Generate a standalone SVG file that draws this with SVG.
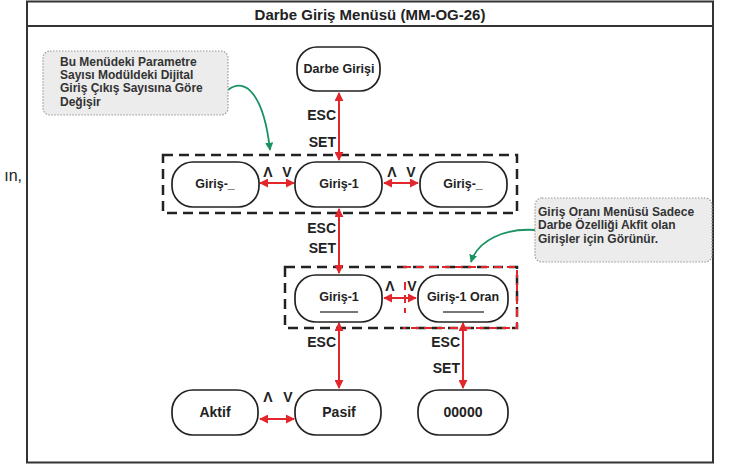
<svg xmlns="http://www.w3.org/2000/svg" width="732" height="467" viewBox="0 0 732 467">
<defs>
<marker id="ar" viewBox="0 0 10 10" refX="9" refY="5" markerWidth="4.5" markerHeight="4.5" orient="auto-start-reverse" markerUnits="strokeWidth"><path d="M0,0 L10,5 L0,10 z" fill="#e3262b"/></marker>
<marker id="ag" viewBox="0 0 10 10" refX="9" refY="5" markerWidth="4.5" markerHeight="4.5" orient="auto" markerUnits="strokeWidth"><path d="M0,0 L10,5 L0,10 z" fill="#1a9160"/></marker>
<style>
text{font-family:"Liberation Sans",Arial,sans-serif;fill:#222}
.node rect{fill:#fff;stroke:#222;stroke-width:1.7}
.nt{font-size:12.5px;font-weight:bold;text-anchor:middle}
.bt{font-size:14px;font-weight:bold;text-anchor:middle}
.lab{font-size:14px;font-weight:bold}
.note rect{fill:#ececec;stroke:#9a9a9a;stroke-width:1.2;stroke-dasharray:1.5 1.5}
.note text{font-size:12px;font-weight:bold;fill:#333}
.grp{fill:none;stroke:#222;stroke-width:2.5;stroke-dasharray:10 6}
.rg{fill:none;stroke:#e3262b;stroke-width:2;stroke-dasharray:8 5}
.ra{stroke:#e3262b;stroke-width:2;fill:none;marker-start:url(#ar);marker-end:url(#ar)}
.ga{stroke:#1a9160;stroke-width:1.8;fill:none;marker-end:url(#ag)}
.ul{stroke:#777;stroke-width:2}
</style>
</defs>
<rect x="0" y="0" width="732" height="467" fill="#fff"/>
<text x="22" y="181" font-size="16" text-anchor="end">ın,</text>
<g id="frame">
<rect x="27" y="1.5" width="686" height="461" fill="none" stroke="#333" stroke-width="2"/>
<line x1="27" y1="26" x2="713" y2="26" stroke="#333" stroke-width="2"/>
<text x="370" y="19.5" font-size="15" font-weight="bold" text-anchor="middle">Darbe Giriş Menüsü (MM-OG-26)</text>
</g>
<g id="groups">
<rect class="grp" x="163" y="155" width="354" height="58"/>
<rect class="grp" x="285" y="267" width="232" height="61"/>
<path class="rg" d="M403,267 H517 V328 H403"/>
<line class="rg" x1="405" y1="282" x2="405" y2="313"/>
</g>
<g id="connectors">
<line class="ra" x1="339" y1="93" x2="339" y2="160"/>
<line class="ra" x1="339" y1="209" x2="339" y2="273"/>
<line class="ra" x1="339" y1="323" x2="339" y2="388"/>
<line class="ra" x1="463" y1="323" x2="463" y2="388"/>
<line class="ra" x1="260" y1="183" x2="294" y2="183"/>
<line class="ra" x1="384" y1="183" x2="418" y2="183"/>
<line class="ra" x1="384" y1="298" x2="416" y2="298"/>
<line class="ra" x1="260" y1="419" x2="294" y2="419"/>
<path class="ga" d="M228,90 C246,76 264,96 270,150"/>
<path class="ga" d="M535,230 C505,228 478,240 471,262"/>
<text class="lab" x="336" y="120" text-anchor="end">ESC</text>
<text class="lab" x="336" y="147" text-anchor="end">SET</text>
<text class="lab" x="336" y="233" text-anchor="end">ESC</text>
<text class="lab" x="336" y="253" text-anchor="end">SET</text>
<text class="lab" x="336" y="347" text-anchor="end">ESC</text>
<text class="lab" x="460" y="347" text-anchor="end">ESC</text>
<text class="lab" x="460" y="373" text-anchor="end">SET</text>
<text class="lab" x="268" y="177" text-anchor="middle">Λ</text>
<text class="lab" x="287" y="177" text-anchor="middle">V</text>
<text class="lab" x="392" y="177" text-anchor="middle">Λ</text>
<text class="lab" x="411" y="177" text-anchor="middle">V</text>
<text class="lab" x="390" y="291" text-anchor="middle">Λ</text>
<text class="lab" x="412" y="291" text-anchor="middle">V</text>
<text class="lab" x="268" y="402" text-anchor="middle">Λ</text>
<text class="lab" x="288" y="402" text-anchor="middle">V</text>
</g>
<g id="n-darbe" class="node"><rect x="297" y="47" width="83" height="44" rx="20"/><text class="nt" x="339" y="73">Darbe Girişi</text></g>
<g id="n-giris-left" class="node"><rect x="172" y="162" width="87" height="45" rx="21"/><text class="nt" x="215" y="188">Giriş-_</text></g>
<g id="n-giris1" class="node"><rect x="295" y="162" width="87" height="45" rx="21"/><text class="nt" x="339" y="188">Giriş-1</text></g>
<g id="n-giris-right" class="node"><rect x="420" y="162" width="87" height="45" rx="21"/><text class="nt" x="463" y="188">Giriş-_</text></g>
<g id="n-giris1b" class="node"><rect x="295" y="275" width="87" height="47" rx="21"/><text class="nt" x="339" y="301">Giriş-1</text><line class="ul" x1="320" y1="312" x2="358" y2="312"/></g>
<g id="n-oran" class="node"><rect x="418" y="275" width="90" height="47" rx="21"/><text class="nt" x="463" y="301">Giriş-1 Oran</text><line class="ul" x1="443" y1="312" x2="484" y2="312"/></g>
<g id="n-aktif" class="node"><rect x="172" y="390" width="86" height="45" rx="21"/><text class="bt" x="215" y="417">Aktif</text></g>
<g id="n-pasif" class="node"><rect x="295" y="390" width="86" height="45" rx="21"/><text class="bt" x="339" y="417">Pasif</text></g>
<g id="n-00000" class="node"><rect x="418" y="390" width="90" height="45" rx="21"/><text class="bt" x="463" y="417">00000</text></g>
<g id="note1" class="note"><rect x="43" y="51" width="185" height="64" rx="7"/>
<text x="60" y="66">Bu Menüdeki Parametre</text>
<text x="60" y="79">Sayısı Modüldeki Dijital</text>
<text x="60" y="92">Giriş Çıkış Sayısına Göre</text>
<text x="60" y="106">Değişir</text></g>
<g id="note2" class="note"><rect x="535" y="198" width="177" height="64" rx="7"/>
<text x="538" y="216">Giriş Oranı Menüsü Sadece</text>
<text x="538" y="229">Darbe Özelliği Akfit olan</text>
<text x="538" y="243">Girişler için Görünür.</text></g>
</svg>
